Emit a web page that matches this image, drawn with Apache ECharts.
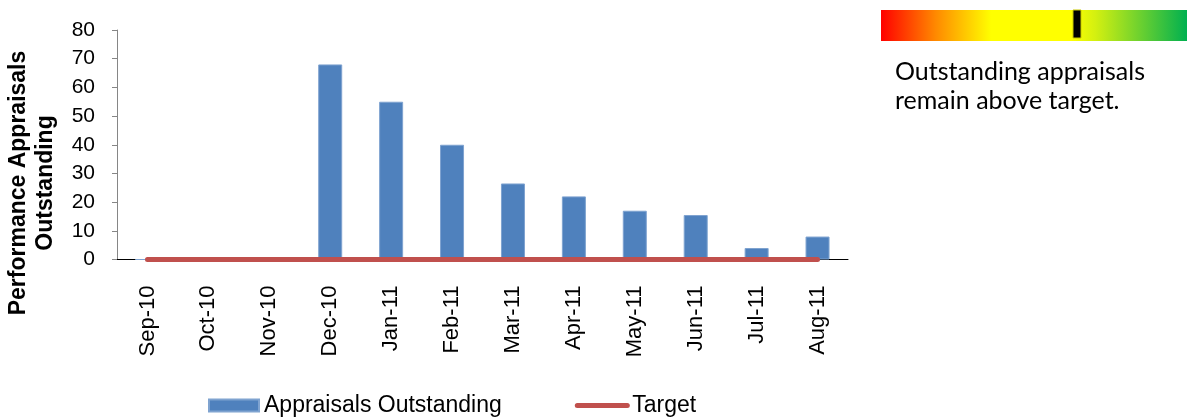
<!DOCTYPE html>
<html>
<head>
<meta charset="utf-8">
<script src="https://cdn.jsdelivr.net/npm/echarts@6/dist/echarts.min.js"></script>
<style>
  html, body { margin: 0; padding: 0; background: #fff; }
  #chart { width: 1187px; height: 419px; }
</style>
</head>
<body>
<div id="chart"></div>
<script>
  const categories = ['Sep-10', 'Oct-10', 'Nov-10', 'Dec-10', 'Jan-11', 'Feb-11', 'Mar-11', 'Apr-11', 'May-11', 'Jun-11', 'Jul-11', 'Aug-11']
  const appraisals = [0, 0, 0, 68, 55, 40, 26.5, 22, 17, 15.5, 4, 8]
  const target = [0, 0, 0, 0, 0, 0, 0, 0, 0, 0, 0, 0]
  const yMin = 0
  const yMax = 80
  const yStep = 10

  const myChart = echarts.init(document.getElementById('chart'))

  const option = {
    animation: false,
    grid: {
      left: 117,
      right: 339,
      top: 30,
      bottom: 159.5,
    },
    legend: {
      left: 203,
      top: 389,
      itemWidth: 50,
      itemHeight: 12,
      itemGap: 73,
      textStyle: {
        fontFamily: 'Liberation Sans',
        fontSize: 23,
        color: '#000',
      },
      data: [
        { name: 'Appraisals Outstanding', icon: 'rect' },
        {
          name: 'Target',
          itemStyle: { opacity: 0 }, // hide the dot, keep the line
          lineStyle: { width: 5, cap: 'round', color: '#C0504D' },
        },
      ],
    },
    xAxis: {
      type: 'category',
      data: categories,
      axisLine: { lineStyle: { color: '#000', width: 1 } },
      axisTick: { length: 6, lineStyle: { color: '#000' } },
      axisLabel: {
        rotate: 90,
        margin: 26,
        color: '#000',
        fontFamily: 'Liberation Sans',
        fontSize: 22,
      },
    },
    yAxis: {
      type: 'value',
      min: yMin,
      max: yMax,
      interval: yStep,
      splitLine: { show: false },
      axisLine: { show: true, lineStyle: { color: '#868686', width: 1 } },
      axisTick: { show: true, length: 5, lineStyle: { color: '#868686' } },
      axisLabel: {
        margin: 22,
        color: '#000',
        fontFamily: 'Liberation Sans',
        fontSize: 21,
      },
    },
    graphic: [
      {
        // y axis title, rotated
        type: 'text',
        x: 32,
        y: 183,
        rotation: Math.PI / 2,
        style: {
          text: 'Performance Appraisals\nOutstanding',
          font: 'bold 23px "Liberation Sans"',
          textAlign: 'center',
          textVerticalAlign: 'middle',
          lineHeight: 27,
          fill: '#000',
        },
      },
      {
        // status gauge
        type: 'rect',
        shape: { x: 881, y: 10, width: 306, height: 31 },
        style: {
          fill: new echarts.graphic.LinearGradient(0, 0, 1, 0, [
            { offset: 0, color: '#FF0000' },
            { offset: 0.18, color: '#FF8A00' },
            { offset: 0.36, color: '#FFFF00' },
            { offset: 0.62, color: '#FFFF00' },
            { offset: 0.7, color: '#D4F010' },
            { offset: 1, color: '#00B050' },
          ]),
        },
      },
      {
        type: 'rect',
        shape: { x: 1073, y: 10, width: 8, height: 28 },
        style: { fill: '#000', stroke: '#C8C800', lineWidth: 1 },
      },
      {
        type: 'text',
        x: 895,
        y: 57,
        style: {
          text: 'Outstanding appraisals\nremain above target.',
          font: '25px Lato',
          lineHeight: 29,
          fill: '#000',
        },
      },
    ],
    series: [
      {
        name: 'Appraisals Outstanding',
        type: 'bar',
        barWidth: 24,
        itemStyle: {
          color: '#4F81BD',
          borderColor: '#7FA3D0',
          borderWidth: 1,
        },
        data: appraisals,
      },
      {
        name: 'Target',
        type: 'line',
        symbol: 'none',
        showSymbol: false,
        itemStyle: { color: '#C0504D' },
        lineStyle: {
          color: '#C0504D',
          width: 5,
          cap: 'round',
        },
        data: target,
      },
    ],
  }

  myChart.setOption(option)
</script>
</body>
</html>
